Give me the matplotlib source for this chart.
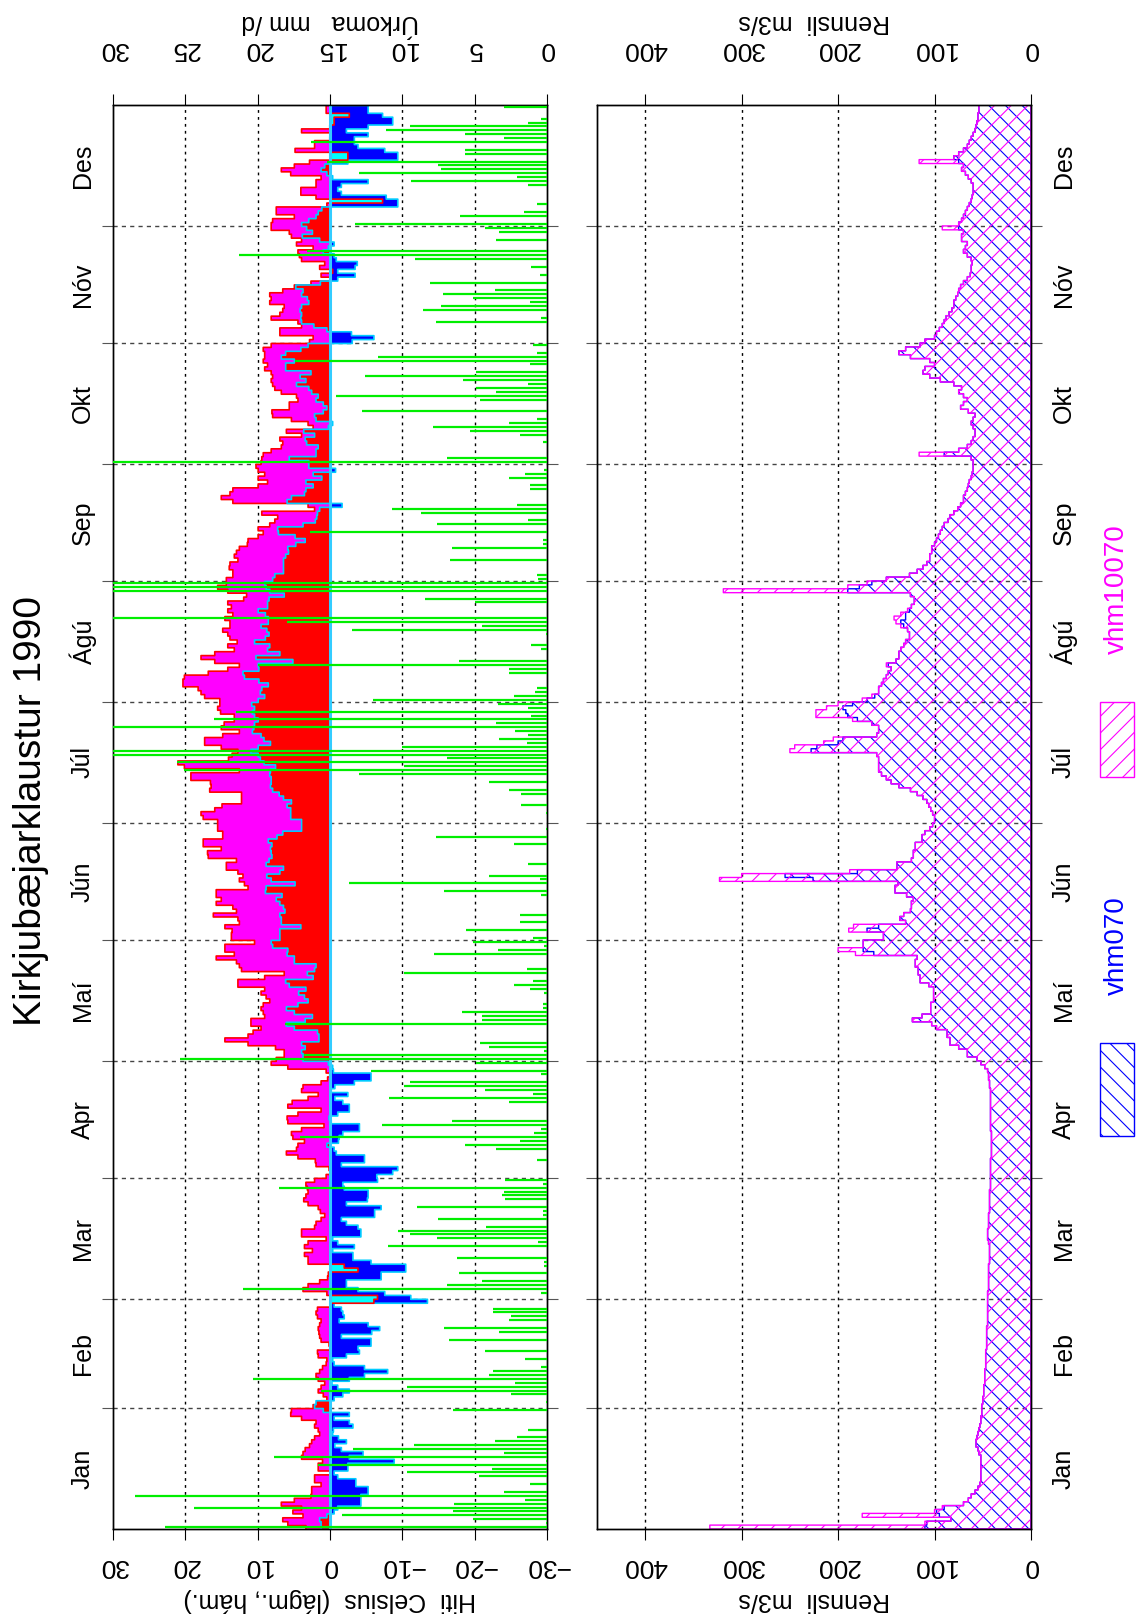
import numpy as np
import matplotlib.pyplot as plt
from matplotlib.patches import Rectangle
from matplotlib.transforms import blended_transform_factory

plt.rcParams['font.family'] = ['Liberation Sans', 'DejaVu Sans']
plt.rcParams['hatch.linewidth'] = 0.8

# --- gögn: daglegur hámarkshiti (°C) ---
tmax_jan = [3.4, 5.9, 6.6, 3.8, 5.2, 4.0, 6.8, 5.0, 2.7, 2.6, 2.6, 1.3, 2.2, 2.2, -0.1, 1.7, 1.7, 1.1, 4.0, 3.8,
            3.5, 2.9, 2.6, 2.2, 1.5, 1.7, 2.2, 2.0, 4.0, 5.5, 5.4]
tmax_feb = [2.4, 1.3, 0.5, 1.0, 1.7, 1.3, 0.8, 1.7, 2.0, 1.5, 1.1, 0.6, 0.5, 1.7, 1.8, 0.1, 0.2, 1.3, 1.5, 1.6,
            1.7, 1.5, 1.3, 1.8, 2.0, 1.8, -0.1, -6.0]
tmax_mar = [-6.5, 0.5, 3.8, 3.1, 1.5, 0.4, 0.3, -3.8, -1.9, 3.1, 3.1, 3.6, 2.5, 3.6, 3.1, 0.6, 4.0, 4.0, 2.2, 2.0,
            1.3, 0.8, 1.4, 1.7, 3.1, 3.7, 3.4, 3.1, 3.2, 3.4, 2.2]
tmax_apr = [0.6, -0.1, 0.2, 2.0, 2.1, 4.5, 6.1, 4.7, 4.5, 3.6, 5.2, 5.4, 4.0, 0.9, 5.9, 6.0, 4.5, 1.3, 5.9, 5.3,
            3.1, 1.7, 4.0, 3.8, 1.3, 0.4, 0.1, 0.6, 5.9, 8.2]
tmax_mai = [7.5, 6.4, 6.4, 7.6, 11.4, 14.6, 11.4, 10.7, 9.6, 11.0, 11.0, 9.1, 9.3, 9.6, 9.3, 8.4, 8.9, 9.6, 9.1, 12.8,
            12.8, 9.1, 6.4, 12.3, 12.6, 13.0, 15.8, 13.3, 14.6, 14.6, 10.5]
tmax_jun = [13.7, 13.7, 13.6, 14.6, 12.6, 12.8, 16.2, 13.0, 13.5, 15.8, 15.1, 15.8, 15.8, 11.4, 11.9, 12.6, 12.1, 12.8, 14.4, 14.4,
            13.0, 16.9, 17.0, 15.1, 17.6, 17.6, 14.9, 14.9, 15.6, 15.6]
tmax_jul = [15.6, 17.6, 17.9, 16.0, 15.0, 12.3, 12.3, 12.3, 16.7, 16.5, 16.6, 19.3, 19.3, 12.6, 20.2, 21.1, 14.1, 13.6, 12.8, 15.1,
            17.4, 17.4, 14.9, 12.6, 15.1, 14.7, 13.3, 13.3, 15.2, 15.6, 15.3]
tmax_agu = [15.3, 17.4, 17.9, 18.3, 20.4, 20.4, 20.2, 16.9, 14.2, 12.6, 16.0, 17.9, 16.0, 13.3, 14.2, 12.9, 13.9, 14.2, 14.9, 13.9,
            13.9, 14.6, 13.5, 14.2, 13.7, 14.2, 12.0, 11.6, 14.2, 15.6, 14.4]
tmax_sep = [14.4, 13.5, 13.5, 14.0, 13.9, 12.8, 13.3, 13.0, 12.6, 11.5, 11.4, 10.0, 9.3, 10.0, 8.4, 7.7, 7.3, 9.5, 2.2, 3.1,
            13.5, 15.1, 13.9, 13.5, 10.0, 8.7, 10.0, 9.1, 10.0, 10.3]
tmax_okt = [9.6, 9.5, 9.3, 8.2, 6.8, 6.6, 7.0, 4.0, 6.1, 2.4, 3.1, 5.4, 8.0, 8.1, 5.7, 5.7, 4.5, 4.7, 6.8, 7.7,
            8.0, 8.2, 8.0, 8.2, 9.1, 8.7, 9.3, 9.1, 9.1, 9.3, 8.2]
tmax_nov = [2.9, 2.4, 7.0, 7.0, 4.0, 4.5, 8.2, 7.0, 6.6, 6.4, 8.4, 8.2, 8.4, 6.6, 5.0, 2.7, -0.1, 1.3, -0.3, 1.5,
            0.8, 4.0, 4.3, 4.5, 2.4, 4.7, 4.0, 5.4, 5.7, 8.2]
tmax_des = [8.2, 8.0, 5.0, 7.5, 7.5, 0.5, -7.2, 2.0, 4.1, 4.1, 2.0, 2.0, 1.3, 5.5, 6.8, 5.0, 2.9, -2.4, -2.4, 4.9,
            2.2, 2.2, 0.1, -0.1, 4.0, 0.1, -0.5, -0.5, -2.6, 0.6, 0.6]

# --- daglegur lágmarkshiti (°C) ---
tmin_jan = [1.3, 1.3, 1.5, 0.5, -0.5, -1.0, -4.2, -4.2, -4.2, -5.2, -5.2, -3.5, -3.5, -1.0, -0.5, -2.4, -2.4, -8.8, -2.6, -4.5,
            -1.5, -0.6, -2.2, -1.1, -0.3, -0.4, -3.1, -2.6, -0.5, -2.6, 1.0]
tmin_feb = [2.2, 2.0, -0.5, -1.7, -2.6, -1.0, -0.2, -2.6, -4.7, -7.9, -4.7, -0.5, -0.3, -2.2, -4.0, -3.8, -5.6, -5.6, -1.5, -5.7,
            -6.8, -5.2, -1.2, -1.9, -1.7, -1.5, -0.5, -13.4]
tmin_mar = [-11.1, -7.5, -3.8, -2.2, -2.2, -7.0, -7.0, -10.4, -10.4, -5.6, -3.1, -3.1, -0.3, -3.3, -1.0, -0.3, -4.2, -4.2, -3.8, -2.2,
            -1.5, -6.1, -6.1, -7.0, -2.2, -5.1, -5.2, -5.2, -1.9, -1.7, -6.5]
tmin_apr = [-6.4, -8.6, -9.3, -1.5, -4.7, -4.7, -0.8, -0.5, 0.5, -1.1, -1.2, -1.7, -4.0, -4.0, -0.1, 0.2, -1.0, -2.6, -2.6, -1.7,
            -0.6, -2.4, -0.1, -0.6, -3.3, -5.6, -5.6, -0.4, -0.3, 0.3]
tmin_mai = [3.8, 3.8, 4.0, 3.5, 4.0, 1.6, 1.6, 1.8, 5.0, 6.1, 3.5, 2.5, 5.0, 6.1, 4.5, 3.1, 3.6, 4.4, 3.4, 5.7,
            6.2, 2.4, 3.2, 2.2, 2.0, 5.0, 5.0, 6.0, 5.9, 8.0, 8.2]
tmin_jun = [7.0, 7.0, 7.0, 4.1, 6.8, 6.8, 7.0, 6.3, 6.5, 7.0, 7.5, 6.7, 9.0, 8.9, 4.9, 8.2, 8.8, 7.0, 6.5, 8.9,
            8.5, 8.1, 8.2, 8.3, 8.1, 8.6, 7.4, 6.6, 4.0, 4.0]
tmin_jul = [4.0, 5.5, 5.5, 5.5, 6.0, 5.4, 6.5, 7.1, 8.0, 8.3, 8.2, 8.2, 8.4, 8.3, 7.6, 9.2, 9.7, 10.0, 11.0, 10.0,
            8.3, 9.2, 9.6, 10.8, 10.6, 10.5, 10.0, 10.5, 10.8, 10.5, 10.9]
tmin_agu = [10.0, 9.1, 9.7, 9.5, 8.6, 9.9, 11.9, 12.1, 9.9, 10.0, 5.2, 10.3, 7.0, 8.7, 8.4, 10.5, 9.0, 8.5, 8.8, 9.6,
            8.6, 8.6, 9.0, 10.0, 8.7, 8.7, 8.5, 6.4, 8.4, 8.9, 9.1]
tmin_sep = [8.0, 7.7, 6.5, 6.5, 6.5, 6.5, 6.2, 5.8, 5.9, 4.8, 3.5, 4.9, 7.2, 7.3, 3.8, 2.1, 1.9, 1.8, 1.5, -1.6,
            6.0, 5.4, 3.6, 3.4, 2.4, 3.4, 1.2, 2.4, -0.7, 3.0]
tmin_okt = [3.0, 5.7, 2.0, 2.0, 1.7, 3.3, 3.5, 2.2, 3.7, 0.3, -0.3, 2.0, 2.2, 1.0, 0.5, 1.0, 2.0, 1.7, 2.6, 3.0,
            4.7, 3.4, 4.2, 2.7, 6.2, 6.2, 5.0, 6.8, 6.2, 4.1, 3.1]
tmin_nov = [-3.0, -6.0, -2.9, 0.5, 2.3, 4.0, 4.1, 4.0, 4.2, 4.0, 3.0, 3.2, 4.0, 3.8, 4.8, 1.4, -1.0, -3.4, -1.0, -3.4,
            -3.7, -0.8, -0.5, 1.0, 0.3, -0.5, 1.5, 3.9, 2.5, 3.3]
tmin_des = [4.0, 3.0, 2.0, 1.7, 1.2, -9.3, -9.3, -7.7, -1.5, -1.0, -1.5, -5.2, -0.3, 0.5, 1.3, 0.8, -2.4, -9.3, -9.3, -7.5,
            -3.8, -3.3, -3.3, -5.2, -2.2, -5.2, -8.6, -8.6, -7.2, -5.2, -5.2]

# --- úrkoma (mm/d) ---
r_jan = [26.4, 0.1, 5.1, 14.2, 6.5, 24.4, 6.4, 1.5, 28.5, 3.0, 0, 1.2, 0, 4.7, 9.7, 3.8, 15.8, 0.1, 18.9, 3.0,
         13.4, 9.2, 3.6, 2.1, 0, 1.3, 0, 0, 0, 0, 6.5]
r_feb = [0, 0.1, 0, 2.5, 15.6, 9.7, 2.2, 20.3, 4.0, 3.7, 0.4, 0, 1.5, 0, 4.3, 0, 0, 6.8, 0, 3.3,
         7.1, 0, 2.6, 2.5, 3.7, 3.7, 0, 0]
r_mar = [0, 0.4, 21.0, 6.9, 4.5, 0, 6.1, 0, 0.2, 0.2, 6.2, 0, 0, 11.0, 0.6, 7.6, 9.5, 10.3, 4.2, 0,
         7.5, 0.3, 0.3, 9.0, 0, 2.9, 3.1, 3.0, 18.5, 0.3, 2.9]
r_apr = [0, 0, 0, 0, 0.7, 0, 0, 3.5, 5.7, 1.9, 17.1, 0.9, 0.4, 11.4, 6.6, 0, 0, 0, 0, 2.6,
         10.9, 1.0, 4.3, 9.9, 9.5, 0, 0.4, 12.2, 0, 4.9]
r_mai = [25.4, 16.8, 0.2, 4.0, 4.6, 0, 0, 0, 0, 18.1, 4.5, 4.5, 5.9, 0.3, 0.3, 0, 0, 0.2, 1.2, 2.3,
         1.0, 0, 9.9, 1.4, 0, 0, 0, 7.8, 3.4, 0.2, 5.1]
r_jun = [1.0, 0, 5.6, 0, 1.9, 0, 1.9, 0, 0, 0, 0, 0.4, 7.1, 0, 13.7, 0.5, 4.0, 0, 0, 1.3,
         0, 0, 0, 0, 2.3, 0, 7.7, 0, 0.1, 0]
r_jul = [0, 0, 0.1, 0, 1.8, 0, 0, 1.8, 2.6, 0, 4.0, 0, 13.0, 25.1, 9.9, 25.6, 6.9, 30.2, 30.2, 10.0,
         1.4, 3.3, 1.3, 2.2, 30.2, 3.5, 23.0, 1.1, 21.5, 1.3, 3.4]
r_agu = [12.0, 2.3, 0.8, 0.7, 0, 0, 0, 2.6, 2.6, 20.0, 6.1, 0, 0, 0.4, 1.1, 0, 0, 0.1, 13.5, 4.5,
         18.0, 30.2, 0, 0, 0, 5.0, 8.4, 0, 30.2, 30.2, 30.2]
r_sep = [0.6, 0.7, 0, 0, 0, 6.7, 0, 0, 6.6, 0.3, 0.3, 0, 16.4, 0, 7.6, 1.3, 0, 8.7, 10.7, 2.1,
         0, 0, 0, 1.2, 1.2, 0, 2.6, 1.5, 0.2, 0]
r_okt = [30.2, 6.9, 0, 0, 0, 0.3, 0, 1.9, 5.3, 7.9, 2.6, 0.7, 0, 12.8, 0, 0, 4.6, 14.6, 3.5, 4.9,
         1.3, 5.8, 12.6, 4.9, 0, 1.2, 17.4, 11.7, 0.7, 0, 1.0]
r_nov = [0, 0, 0, 0, 0, 7.7, 0.4, 0, 8.6, 7.3, 1.2, 5.1, 7.2, 3.6, 0, 8.1, 0, 0.5, 0, 1.1,
         0, 9.1, 21.3, 16.6, 0, 0, 3.5, 0, 3.3, 4.3]
r_des = [13.3, 0, 6.0, 1.6, 0, 0.7, 0, 0, 0, 0, 1.3, 9.4, 2.1, 13.0, 7.3, 7.5, 15.2, 0, 5.7, 5.7,
         0, 16.3, 3.0, 5.7, 11.1, 9.5, 1.3, 0.4, 0, 0, 3.0]

# --- rennsli (m3/s), vhm10070 ---
q1_jan = [333, 110, 83, 175, 100, 92, 70, 65, 62, 58, 55, 53, 52, 52, 52, 52, 52, 52, 52, 54,
          55, 57, 57, 56, 55, 54, 53, 52, 52, 51, 51]
q_feb = [51, 50, 50, 49, 49, 49, 48, 48, 48, 48, 47, 47, 47, 47, 47, 46, 46, 46, 46, 46,
         46, 45, 45, 45, 45, 45, 45, 45]
q_mar = [45, 45, 44, 44, 44, 44, 44, 44, 44, 43, 43, 43, 43, 43, 44, 45, 45, 45, 44, 44,
         44, 44, 43, 43, 43, 43, 43, 43, 42, 42, 42]
q_apr = [42, 42, 42, 42, 42, 41, 41, 41, 41, 41, 41, 41, 42, 42, 42, 42, 42, 42, 42, 42,
         42, 42, 42, 43, 43, 44, 44, 45, 48, 52]
q1_mai = [56, 66, 66, 75, 84, 84, 87, 87, 98, 103, 123, 113, 104, 104, 104, 101, 101, 101, 101, 106,
          115, 115, 117, 117, 120, 120, 118, 182, 200, 174, 174]
q1_jun = [153, 153, 189, 184, 130, 136, 132, 125, 124, 124, 122, 129, 141, 141, 138, 323, 300, 188, 139, 139,
          124, 122, 122, 120, 120, 113, 113, 110, 105, 102]
q1_jul = [100, 100, 102, 104, 106, 108, 112, 118, 125, 137, 145, 150, 155, 158, 158, 158, 158, 160, 250, 245,
          215, 205, 160, 158, 158, 165, 185, 223, 223, 212, 200]
q1_agu = [175, 165, 158, 158, 155, 153, 150, 148, 145, 150, 140, 137, 137, 135, 132, 130, 126, 126, 128, 135,
          140, 142, 135, 128, 124, 121, 121, 125, 319, 190, 170]
q_sep = [150, 126, 118, 112, 108, 105, 105, 103, 103, 100, 98, 96, 94, 92, 90, 86, 84, 80, 76, 73,
         70, 70, 68, 66, 65, 64, 62, 61, 60, 60]
q1_okt = [60, 62, 116, 75, 66, 62, 60, 58, 58, 60, 62, 60, 58, 65, 73, 70, 66, 70, 75, 72,
          80, 94, 105, 112, 110, 100, 105, 125, 137, 130, 115]
q1_nov = [110, 100, 98, 95, 92, 90, 88, 85, 82, 80, 80, 78, 76, 75, 73, 70, 66, 63, 62, 62,
          61, 62, 66, 70, 68, 66, 72, 72, 70, 92]
q1_des = [75, 72, 70, 68, 66, 64, 62, 61, 60, 60, 60, 62, 65, 68, 72, 70, 116, 80, 75, 70,
          66, 64, 62, 60, 58, 57, 56, 55, 55, 54, 54]

# --- rennsli (m3/s), vhm070 ---
q2_jan = [110, 108, 83, 95, 98, 90, 70, 65, 62, 58, 55, 53, 52, 52, 52, 52, 52, 52, 52, 54,
          55, 57, 57, 56, 55, 54, 53, 52, 52, 51, 51]
q2_mai = [56, 66, 66, 75, 84, 84, 87, 87, 98, 103, 123, 113, 104, 104, 104, 101, 101, 101, 101, 106,
          115, 115, 117, 117, 120, 120, 118, 163, 174, 174, 174]
q2_jun = [153, 153, 170, 158, 130, 136, 132, 125, 124, 124, 122, 129, 141, 141, 138, 226, 255, 180, 139, 139,
          124, 122, 122, 120, 120, 113, 113, 110, 105, 102]
q2_jul = [100, 100, 102, 104, 106, 108, 112, 118, 125, 137, 145, 150, 155, 158, 158, 158, 158, 160, 228, 222,
          200, 195, 160, 158, 158, 165, 180, 190, 192, 195, 185]
q2_agu = [170, 162, 158, 158, 155, 153, 150, 148, 145, 148, 140, 137, 137, 135, 132, 130, 126, 126, 128, 132,
          135, 130, 130, 126, 124, 121, 121, 125, 190, 178, 165]
q2_okt = [60, 62, 90, 75, 66, 62, 60, 58, 58, 60, 62, 60, 58, 65, 73, 70, 66, 70, 75, 72,
          80, 94, 105, 112, 110, 100, 105, 125, 137, 130, 115]
q2_nov = [110, 100, 98, 95, 92, 90, 88, 85, 82, 80, 80, 78, 76, 75, 73, 70, 66, 63, 62, 62,
          61, 62, 66, 70, 68, 66, 72, 72, 70, 75]
q2_des = [75, 72, 70, 68, 66, 64, 62, 61, 60, 60, 60, 62, 65, 68, 72, 70, 75, 80, 75, 70,
          66, 64, 62, 60, 58, 57, 56, 55, 55, 54, 54]

manudir = ['Jan', 'Feb', 'Mar', 'Apr', 'Maí', 'Jún', 'Júl', 'Ágú', 'Sep', 'Okt', 'Nóv', 'Des']
daga_fjoldi = [31, 28, 31, 30, 31, 30, 31, 31, 30, 31, 30, 31]

tmax = np.array(tmax_jan + tmax_feb + tmax_mar + tmax_apr + tmax_mai + tmax_jun +
                tmax_jul + tmax_agu + tmax_sep + tmax_okt + tmax_nov + tmax_des)
tmin = np.array(tmin_jan + tmin_feb + tmin_mar + tmin_apr + tmin_mai + tmin_jun +
                tmin_jul + tmin_agu + tmin_sep + tmin_okt + tmin_nov + tmin_des)
urk = np.array(r_jan + r_feb + r_mar + r_apr + r_mai + r_jun +
               r_jul + r_agu + r_sep + r_okt + r_nov + r_des)
q10070 = np.array(q1_jan + q_feb + q_mar + q_apr + q1_mai + q1_jun +
                  q1_jul + q1_agu + q_sep + q1_okt + q1_nov + q1_des, dtype=float)
q070 = np.array(q2_jan + q_feb + q_mar + q_apr + q2_mai + q2_jun +
                q2_jul + q2_agu + q_sep + q2_okt + q2_nov + q2_des, dtype=float)

n = len(tmax)
dagar = np.arange(n + 1)
man_byrjun = np.concatenate([[0], np.cumsum(daga_fjoldi)])
man_midja = man_byrjun[:-1] + np.array(daga_fjoldi) / 2.0


def st(v):
    # endurtaka síðasta gildið svo þrepin nái yfir allt árið
    return np.append(v, v[-1])


W, H = 1138, 1619
fig = plt.figure(figsize=(W / 100, H / 100), dpi=100)
ax1 = fig.add_axes([113 / W, 1 - 1529 / H, 434 / W, 1424 / H])
ax2 = fig.add_axes([597 / W, 1 - 1529 / H, 434 / W, 1424 / H])

# --- efri mynd: hiti og úrkoma ---
ax1.set_xlim(30, -30)
ax1.set_ylim(0, n)
for m in man_byrjun[1:-1]:
    ax1.axhline(m, color='#444444', lw=1, ls=(0, (3, 3)), zorder=0.5)
for v in [20, 10, -10, -20]:
    ax1.axvline(v, color='black', lw=1, ls=(0, (2, 3)), zorder=0.5)

hmax_pos = np.clip(tmax, 0, None)
hmax_neg = np.clip(tmax, None, 0)
hmin_pos = np.clip(tmin, 0, None)
hmin_neg = np.clip(tmin, None, 0)
ax1.fill_betweenx(dagar, 0, st(hmax_pos), step='post', facecolor='#ff00ff', edgecolor='#ff0000', lw=1.2, zorder=1)
ax1.fill_betweenx(dagar, 0, st(hmin_neg), step='post', facecolor='#0000ff', edgecolor='#00ccff', lw=1.2, zorder=1)
ax1.fill_betweenx(dagar, 0, st(hmin_pos), step='post', facecolor='#ff0000', edgecolor='#00ccff', lw=1.2, zorder=2)
ax1.fill_betweenx(dagar, 0, st(hmax_neg), step='post', facecolor='#00ffff', edgecolor='#ff0000', lw=1.2, zorder=2)
ax1.axvline(0, color='#33ccff', lw=2.2, zorder=3)

ax1.set_xticks([30, 20, 10, 0, -10, -20, -30])
ax1.set_xticklabels(['30', '20', '10', '0', '\u221210', '\u221220', '\u221230'])
ax1.tick_params(axis='x', bottom=True, top=False, direction='out', length=8, pad=10,
                labelsize=19, labelrotation=180)
ax1.set_yticks(man_byrjun[1:-1])
ax1.tick_params(axis='y', left=True, right=True, direction='out', length=8,
                labelleft=False, color='#555555')

axp = ax1.twiny()
axp.set_xlim(30, 0)
regn = urk > 0
axp.hlines(np.arange(n)[regn] + 0.5, 0, urk[regn], color='#00ee00', lw=1.6, zorder=4)
axp.set_xticks([0, 5, 10, 15, 20, 25, 30])
axp.tick_params(axis='x', top=True, direction='out', length=8, pad=24,
                labelsize=19, labelrotation=180)

# --- neðri mynd: rennsli ---
ax2.set_xlim(450, 0)
ax2.set_ylim(0, n)
for m in man_byrjun[1:-1]:
    ax2.axhline(m, color='#444444', lw=1, ls=(0, (3, 3)), zorder=0.5)
for v in [400, 300, 200, 100]:
    ax2.axvline(v, color='black', lw=1, ls=(0, (2, 3)), zorder=0.5)
ax2.fill_betweenx(dagar, 0, st(q070), step='post', facecolor='none', edgecolor='#0000ff',
                  hatch='\\\\', lw=1.0, zorder=1)
ax2.fill_betweenx(dagar, 0, st(q10070), step='post', facecolor='none', edgecolor='#ff00ff',
                  hatch='//', lw=1.0, zorder=2)
ax2.set_xticks([400, 300, 200, 100, 0])
ax2.tick_params(axis='x', bottom=True, top=False, direction='out', length=8, pad=10,
                labelsize=19, labelrotation=180)
ax2.set_yticks(man_byrjun[1:-1])
ax2.tick_params(axis='y', left=True, right=True, direction='out', length=8,
                labelleft=False, color='#555555')

# efri ás rennslis, sömu gildi
ax2t = ax2.twiny()
ax2t.set_xlim(450, 0)
ax2t.set_xticks([400, 300, 200, 100, 0])
ax2t.tick_params(axis='x', top=True, direction='out', length=8, pad=24,
                 labelsize=19, labelrotation=180)

for ax in (ax1, ax2, axp, ax2t):
    for s in ax.spines.values():
        s.set_linewidth(1.0)

# --- textar ---
fig.text(31 / W, 1 - 811 / H, 'Kirkjubæjarklaustur 1990', rotation=90, fontsize=28,
         ha='center', va='center')
trl = blended_transform_factory(fig.transFigure, ax1.transData)
for nafn, y in zip(manudir, man_midja):
    fig.text(83 / W, y, nafn, transform=trl, rotation=90, fontsize=18, ha='center', va='center')
    fig.text(1064 / W, y, nafn, transform=trl, rotation=90, fontsize=18, ha='center', va='center')

fig.text(330 / W, 1 - 1600 / H, 'Hiti  Celsius  (lágm., hám.)', rotation=180, fontsize=18,
         ha='center', va='center')
fig.text(330 / W, 1 - 22 / H, 'Úrkoma   mm /d', rotation=180, fontsize=18,
         ha='center', va='center')
fig.text(814 / W, 1 - 1600 / H, 'Rennsli  m3/s', rotation=180, fontsize=18,
         ha='center', va='center')
fig.text(814 / W, 1 - 22 / H, 'Rennsli  m3/s', rotation=180, fontsize=18,
         ha='center', va='center')

# --- skýringar ---
fig.patches.append(Rectangle((1100 / W, 1 - 1136 / H), 34 / W, 93 / H, transform=fig.transFigure,
                             facecolor='none', edgecolor='#0000ff', hatch='\\\\', lw=1))
fig.patches.append(Rectangle((1100 / W, 1 - 777 / H), 34 / W, 75 / H, transform=fig.transFigure,
                             facecolor='none', edgecolor='#ff00ff', hatch='//', lw=1))
fig.text(1117 / W, 1 - 946 / H, 'vhm070', rotation=90, fontsize=20, color='#0000ff',
         ha='center', va='center')
fig.text(1117 / W, 1 - 589 / H, 'vhm10070', rotation=90, fontsize=20, color='#ff00ff',
         ha='center', va='center')

fig.savefig('out.png', dpi=100)
